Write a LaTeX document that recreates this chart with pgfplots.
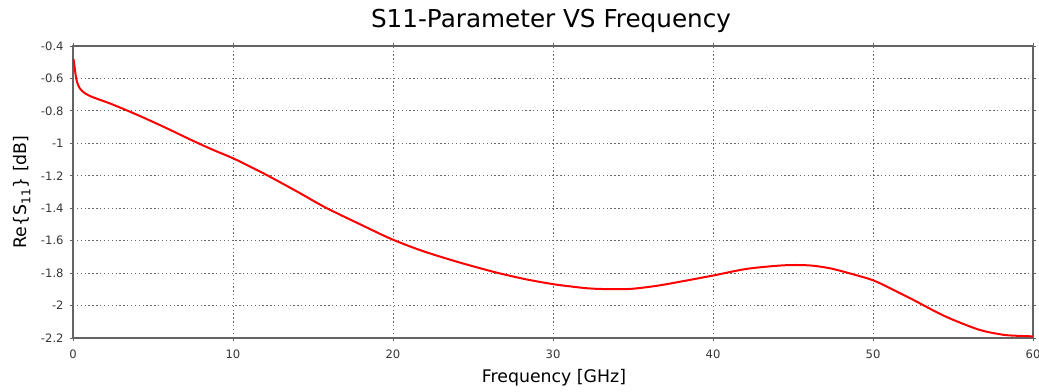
\documentclass[border=0pt]{standalone}
\usepackage{pgfplots}
\pgfplotsset{compat=1.18}
\usepackage{fontspec}
\setmainfont{DejaVu Sans}
\definecolor{axisgray}{RGB}{100,100,100}
\definecolor{gridgray}{RGB}{105,105,105}
\definecolor{labelgray}{RGB}{55,55,55}
\begin{document}
\begin{tikzpicture}
\useasboundingbox (-54.75pt,-40.5pt) rectangle (724.5pt,253.5pt);
\begin{axis}[
  at={(0,0)}, anchor=south west,
  scale only axis,
  width=720pt, height=219pt,
  xmin=0, xmax=60, ymin=-2.2, ymax=-0.4,
  xtick={0,10,...,60},
  ytick={-2.2,-2,-1.8,-1.6,-1.4,-1.2,-1,-0.8,-0.6,-0.4},
  yticklabels={-2.2,-2,-1.8,-1.6,-1.4,-1.2,-1,-0.8,-0.6,-0.4},
  /pgf/number format/assume math mode=true,
  tick label style={font=\fontsize{8.7pt}{10pt}\selectfont, text=labelgray},
  xticklabel style={yshift=-3pt},
  yticklabel style={xshift=-1pt},
  tick align=outside,
  major tick length=2.5pt,
  tick style={axisgray, line width=0.7pt},
  axis line style={axisgray, line width=0.9pt},
  grid=major,
  major grid style={gridgray, dash pattern=on 1pt off 1.9pt, line width=0.75pt},
  clip=true,
]
% Re{S11} versus frequency
\addplot[red, line width=1.5pt, smooth] coordinates {
(0.03,-0.48) (0.1,-0.53) (0.2,-0.60) (0.3,-0.635) (0.42,-0.66)
(0.6,-0.68) (0.8,-0.695) (1.25,-0.716) (2.28,-0.753) (3.32,-0.795)
(4.17,-0.831) (5.4,-0.886) (6.24,-0.925) (7.49,-0.984) (8.7,-1.038)
(10,-1.092) (11,-1.14) (12.1,-1.195) (14,-1.297) (15.77,-1.395)
(17.9,-1.497) (19.9,-1.590) (21.8,-1.662) (23.9,-1.727) (25.3,-1.766)
(26.6,-1.800) (28.3,-1.838) (30,-1.868) (31,-1.881) (32.2,-1.894)
(33.5,-1.899) (34.9,-1.897) (36.5,-1.878) (38.0,-1.852) (40,-1.815)
(42.1,-1.774) (44.1,-1.754) (45.2,-1.750) (46.2,-1.754) (47.3,-1.770)
(48.3,-1.795) (50,-1.844) (51.2,-1.90) (52.4,-1.959) (54.5,-2.066)
(56.6,-2.148) (58,-2.178) (58.7,-2.185) (60,-2.19)
};
\end{axis}
\node[font=\fontsize{18.5pt}{22pt}\selectfont, anchor=base] at (358.5pt,232.5pt) {S11-Parameter VS Frequency};
\node[font=\fontsize{13pt}{15pt}\selectfont, anchor=base] at (360.75pt,-33.75pt) {Frequency [GHz]};
\node[font=\fontsize{13pt}{15pt}\selectfont, rotate=90] at (-38.25pt,109.5pt) {Re\{S\textsubscript{11}\} [dB]};
\end{tikzpicture}
\end{document}
